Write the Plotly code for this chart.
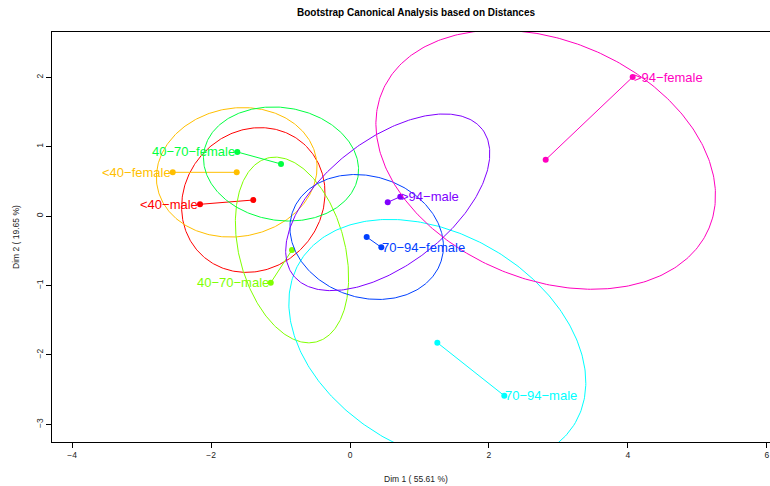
import numpy as np
import plotly.graph_objects as go

# Group labels and their colours (rainbow palette of 8)
groups = ["<40\u2212male", "<40\u2212female", "40\u221270\u2212male", "40\u221270\u2212female",
          "70\u221294\u2212male", "70\u221294\u2212female", ">94\u2212male", ">94\u2212female"]
colors = ["#FF0000", "#FFBF00", "#80FF00", "#00FF40",
          "#00FFFF", "#0040FF", "#8000FF", "#FF00BF"]

# Group coordinates (labelled points)
label_x = [-2.159, -2.552, -1.141, -1.622, 2.221, 0.451, 0.724, 4.069]
label_y = [0.170, 0.631, -0.960, 0.924, -2.588, -0.450, 0.280, 2.004]

# Bootstrap mean coordinates (ellipse centres)
boot_x = [-1.392, -1.631, -0.835, -0.993, 1.257, 0.240, 0.543, 2.817]
boot_y = [0.232, 0.631, -0.488, 0.751, -1.824, -0.301, 0.199, 0.813]

# Confidence ellipses: semi-axes and orientation (degrees)
ell_major = [1.087, 1.163, 1.370, 1.123, 2.297, 1.127, 1.720, 2.550]
ell_minor = [0.986, 0.925, 0.760, 0.813, 1.565, 0.873, 0.906, 1.720]
ell_angle = [48.0, 10.0, 105.0, -9.0, -30.0, -18.0, 37.7, -22.7]

# Label placement: text to the left of the point or to the right
label_side = ["left", "left", "left", "left", "right", "right", "right", "right"]

x_ticks = [-4, -2, 0, 2, 4, 6]
y_ticks = [-3, -2, -1, 0, 1, 2]

FONT = "Liberation Sans, Arial, Helvetica, sans-serif"

fig = go.Figure()
t = np.linspace(0, 2 * np.pi, 361)
for i, g in enumerate(groups):
    th = np.deg2rad(ell_angle[i])
    ex = boot_x[i] + ell_major[i] * np.cos(t) * np.cos(th) - ell_minor[i] * np.sin(t) * np.sin(th)
    ey = boot_y[i] + ell_major[i] * np.cos(t) * np.sin(th) + ell_minor[i] * np.sin(t) * np.cos(th)
    fig.add_trace(go.Scatter(x=ex, y=ey, mode="lines",
                             line=dict(color=colors[i], width=1),
                             hoverinfo="skip", showlegend=False))
    fig.add_trace(go.Scatter(x=[label_x[i], boot_x[i]], y=[label_y[i], boot_y[i]],
                             mode="lines+markers", name=g,
                             line=dict(color=colors[i], width=1),
                             marker=dict(color=colors[i], size=6),
                             showlegend=False))
    left = label_side[i] == "left"
    fig.add_annotation(x=label_x[i], y=label_y[i], text=g, showarrow=False,
                       xanchor="right" if left else "left", yanchor="middle",
                       xshift=-1 if left else 0, borderpad=0,
                       font=dict(family=FONT, size=13, color=colors[i]))

# Axis titles
fig.add_annotation(text="Dim 1 ( 55.61 %)", xref="paper", yref="paper",
                   x=(416 - 52) / 718, y=(442 - 479) / 410,
                   showarrow=False, xanchor="center", yanchor="middle",
                   font=dict(family=FONT, size=8.5, color="#222222"))
fig.add_annotation(text="Dim 2 ( 19.65 %)", xref="paper", yref="paper",
                   x=(16 - 52) / 718, y=0.5, textangle=-90,
                   showarrow=False, xanchor="center", yanchor="middle",
                   font=dict(family=FONT, size=8.5, color="#222222"))

fig.update_layout(
    width=770, height=486,
    margin=dict(l=52, r=0, t=32, b=44),
    paper_bgcolor="white", plot_bgcolor="white",
    title=dict(text="Bootstrap Canonical Analysis based on Distances",
               xref="container", yref="container",
               x=416 / 770, y=1 - 12 / 486, xanchor="center", yanchor="middle",
               font=dict(family=FONT, size=10, color="black", weight="bold")),
    xaxis=dict(range=[-4.290, 6.046], tickvals=x_ticks, showgrid=False, zeroline=False,
               showline=True, linecolor="black", linewidth=1, mirror=True,
               ticks="outside", ticklen=5, tickcolor="black",
               tickfont=dict(family=FONT, size=8.5, color="#222222")),
    yaxis=dict(range=[-3.255, 2.653], tickvals=y_ticks, showgrid=False, zeroline=False,
               showline=True, linecolor="black", linewidth=1,
               ticks="outside", ticklen=5, tickcolor="black", tickangle=-90,
               tickfont=dict(family=FONT, size=8.5, color="#222222")),
)

fig.write_html("out.html")
